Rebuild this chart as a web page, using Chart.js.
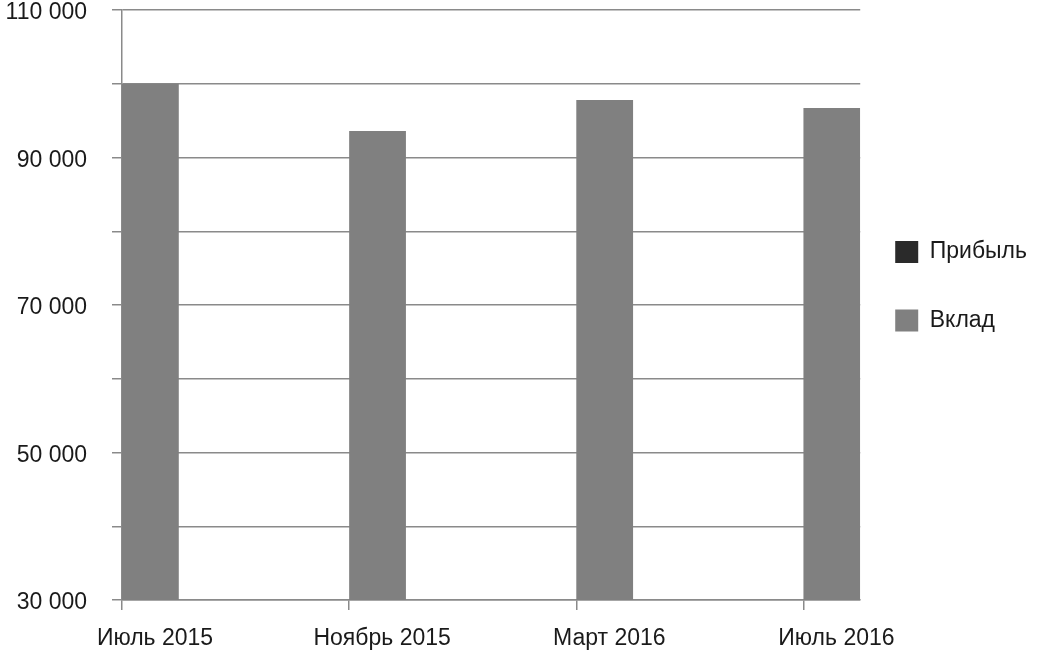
<!DOCTYPE html>
<html lang="ru">
<head>
<meta charset="utf-8">
<title>Вклад</title>
<script src="https://cdn.jsdelivr.net/npm/chart.js@4"></script>
<style>
  html, body { margin: 0; padding: 0; background: #fff; }
  #wrap { width: 1040px; height: 654px; }
</style>
</head>
<body>
<div id="wrap"><canvas id="graficoVklad"></canvas></div>
<script>
// Данные графика
const periods = ["Июль 2015", "Ноябрь 2015", "Март 2016", "Июль 2016"];
const vklad = [100000, 93600, 97800, 96700];
const pribyl = [null, null, null, null]; // на графике не видна
const yTicks = [30000, 50000, 70000, 90000, 110000];

const GRID = "#8a8a8a";
const TEXT = "#1a1a1a";
const FONT = "'Liberation Sans', Arial, sans-serif";

function fmt(v) {
    return String(v).replace(/\B(?=(\d{3})+(?!\d))/g, " ");
}

const ctx = document.getElementById("graficoVklad").getContext("2d");

new Chart(ctx, {
    type: "bar",
    data: {
        datasets: [
            {
                label: "Прибыль",
                data: pribyl.map((v, i) => ({ x: i, y: v })),
                backgroundColor: "#2a2a2a",
                borderWidth: 0
            },
            {
                label: "Вклад",
                data: vklad.map((v, i) => ({ x: i, y: v })),
                backgroundColor: "#808080",
                borderWidth: 0
            }
        ]
    },
    options: {
        responsive: true,
        maintainAspectRatio: false,
        animation: false,
        layout: { padding: { top: 10, left: 0, right: 3, bottom: 0 } },
        datasets: {
            bar: { categoryPercentage: 0.5, barPercentage: 1, grouped: true }
        },
        plugins: {
            tooltip: { enabled: false },
            legend: {
                position: "right",
                align: "start",
                maxWidth: 180,
                title: {
                    display: true,
                    text: "",
                    font: { size: 12 },
                    padding: { top: 0, bottom: 181 }
                },
                labels: {
                    boxWidth: 23,
                    boxHeight: 22,
                    padding: 35,
                    color: TEXT,
                    font: { family: FONT, size: 23, lineHeight: 1.457 },
                    generateLabels: function (chart) {
                        const items = Chart.defaults.plugins.legend.labels.generateLabels(chart);
                        return items.map(function (it) {
                            it.text = [it.text];
                            it.lineWidth = 0;
                            return it;
                        });
                    }
                }
            }
        },
        scales: {
            x: {
                type: "linear",
                offset: false,
                min: 0,
                max: periods.length - 0.75,
                grid: {
                    offset: false,
                    drawOnChartArea: false,
                    drawTicks: true,
                    tickLength: 10,
                    color: GRID,
                    lineWidth: 1.5
                },
                border: { color: GRID, width: 1.5 },
                ticks: {
                    stepSize: 1,
                    includeBounds: false,
                    autoSkip: false,
                    maxRotation: 0,
                    labelOffset: 33,
                    padding: 15,
                    color: TEXT,
                    font: { family: FONT, size: 23 },
                    callback: function (value) {
                        return Number.isInteger(value) && periods[value] ? periods[value] : "";
                    }
                },
                afterFit: function (scale) {
                    scale.height = 54;
                    scale.paddingLeft = 0;
                    scale.paddingRight = 0;
                }
            },
            y: {
                min: 30000,
                max: 110000,
                grid: {
                    drawTicks: true,
                    tickLength: 10,
                    color: GRID,
                    lineWidth: 1.5
                },
                border: { color: GRID, width: 1.5 },
                ticks: {
                    stepSize: 10000,
                    padding: 25,
                    labelOffset: 3,
                    color: TEXT,
                    font: { family: FONT, size: 23 },
                    callback: function (value) {
                        return yTicks.includes(value) ? fmt(value) : "";
                    }
                },
                afterFit: function (scale) {
                    scale.width = 122;
                    scale.paddingTop = 0;
                    scale.paddingBottom = 0;
                }
            }
        }
    }
});
</script>
</body>
</html>
